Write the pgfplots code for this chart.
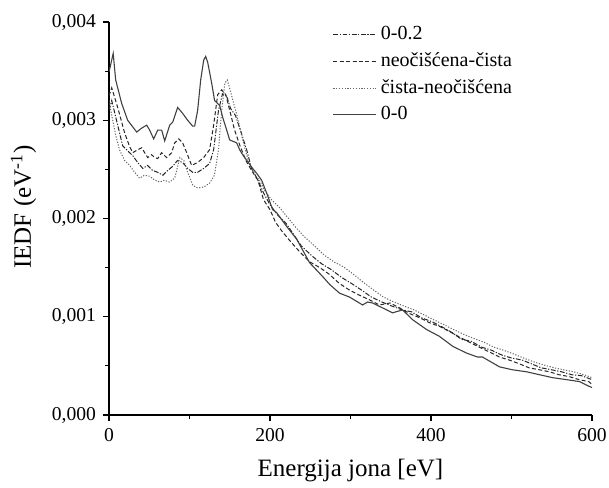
\documentclass[border=0pt]{standalone}
\usepackage{fontspec}
\setmainfont{Liberation Serif}
\usepackage{pgfplots}
\usepackage{pgfplotstable}
\pgfplotsset{compat=1.18}

% 0-0.2
\pgfplotstableread{
x y
0 0.00310
3.4 0.00320
10.8 0.00295
17 0.00274
23 0.00269
29.5 0.00264
35.6 0.00257
42 0.00251
48 0.00254
54 0.00249
60.5 0.00247
67 0.00244
73 0.00249
79 0.00253
85 0.00259
91.5 0.00257
97.7 0.00251
104 0.00247
110 0.00247
117.6 0.00251
125 0.00256
130 0.00270
136 0.00310
141 0.00327
146 0.00325
151 0.00312
157 0.00305
164 0.00288
171 0.00270
177 0.00251
185 0.00239
192 0.00226
200 0.00214
209 0.00204
220 0.00195
230 0.00183
239 0.00172
252 0.00162
264 0.00154
276 0.00148
289 0.00140
301 0.00134
314 0.00127
326 0.00120
339 0.00115
351 0.00111
364 0.00107
376 0.00105
388 0.00099
401 0.00095
413 0.00090
426 0.00084
438 0.00077
450 0.00075
463 0.00069
475 0.00066
488 0.00061
500 0.00058
513 0.00056
525 0.00052
537 0.00048
550 0.00046
562 0.00044
575 0.00041
587 0.00040
600 0.00036
}\tabA

% neocisdena-cista
\pgfplotstableread{
x y
0 0.00325
3.4 0.00333
10.8 0.00313
19.5 0.00287
25.7 0.00273
29.5 0.00267
35.6 0.00270
40.6 0.00272
44.3 0.00267
48.1 0.00262
53 0.00265
56.7 0.00262
60.5 0.00261
65.4 0.00267
71.6 0.00262
77.9 0.00267
81.6 0.00277
86.6 0.00281
91.5 0.00277
96.5 0.00267
102.7 0.00254
110.1 0.00257
117.6 0.00262
125 0.00270
130 0.00295
135 0.00326
140 0.00331
145 0.00326
150 0.00310
156 0.00290
162.3 0.00275
170 0.00259
177 0.00249
185 0.00239
192 0.00219
200 0.00209
207 0.00196
214 0.00188
224 0.00178
237 0.00166
249 0.00156
262 0.00150
274 0.00143
286 0.00134
299 0.00127
311 0.00122
324 0.00117
336 0.00112
349 0.00114
361 0.00109
374 0.00103
386 0.00099
398 0.00094
411 0.00090
423 0.00085
436 0.00079
448 0.00074
460 0.00069
473 0.00064
485 0.00059
497 0.00056
510 0.00052
522 0.00048
535 0.00046
547 0.00044
559 0.00041
572 0.00039
584 0.00036
596 0.00034
600 0.00031
}\tabB

% cista-neocisdena
\pgfplotstableread{
x y
0 0.00320
3.4 0.00305
8.3 0.00285
13 0.00270
19.5 0.00259
25.7 0.00254
32 0.00247
38 0.00241
44 0.00244
50.5 0.00243
57 0.00239
63 0.00237
69 0.00239
75 0.00237
81.6 0.00241
88 0.00262
93 0.00259
97.7 0.00247
104 0.00234
110 0.00231
117.6 0.00232
125 0.00236
131 0.00244
136 0.00270
140 0.00310
144 0.00338
147 0.00341
152 0.00326
159 0.00305
166 0.00280
173 0.00259
181 0.00244
187 0.00239
193 0.00229
202 0.00219
212 0.00211
222 0.00201
232 0.00191
242 0.00182
254 0.00173
267 0.00163
279 0.00156
291 0.00151
304 0.00143
316 0.00135
329 0.00127
341 0.00120
354 0.00115
366 0.00111
379 0.00107
391 0.00102
403 0.00097
416 0.00092
428 0.00087
441 0.00082
453 0.00078
466 0.00074
478 0.00069
490 0.00066
503 0.00062
515 0.00058
528 0.00054
540 0.00051
553 0.00048
565 0.00046
577 0.00044
590 0.00041
600 0.00038
}\tabC

% 0-0
\pgfplotstableread{
x y
0 0.00349
5.2 0.00368
8.3 0.00341
15.8 0.00317
23.2 0.00300
34.4 0.00288
40.6 0.00292
46.8 0.00295
50.5 0.00290
55.5 0.00281
60.5 0.00290
65.4 0.00290
69.2 0.00279
75.4 0.00295
79.1 0.00298
85.3 0.00313
91.5 0.00307
97.7 0.00300
103.9 0.00294
106.4 0.00294
110.1 0.00310
113.9 0.00341
117.6 0.00361
120.1 0.00365
122.6 0.00359
127.5 0.00338
131.2 0.00320
137.5 0.00315
141.2 0.00303
146.2 0.00290
149.9 0.00280
158.6 0.00277
162.3 0.00270
166 0.00265
172.2 0.00258
178.4 0.00251
183.4 0.00246
189.6 0.00239
195.8 0.00226
203.3 0.00209
208.2 0.00206
220.6 0.00192
233.1 0.00179
249.2 0.00155
265.3 0.00141
274 0.00133
286.4 0.00124
298.9 0.00120
315 0.00112
321.2 0.00115
327.4 0.00114
352.3 0.00104
364.7 0.00107
377.1 0.00097
394.5 0.00087
410.6 0.00080
426.8 0.00070
444.2 0.00063
457.8 0.00059
464 0.00059
485.1 0.00049
501.3 0.00046
518.7 0.00044
534.8 0.00041
551 0.00038
568.3 0.00036
584.5 0.00034
596.9 0.00029
600 0.00028
}\tabD

\begin{document}
\begin{tikzpicture}
\begin{axis}[
    scale only axis,
    width=241.5pt, height=196.5pt,
    xmin=0, xmax=600,
    ymin=0, ymax=0.004,
    xtick={0,200,400,600},
    ytick={0,0.001,0.002,0.003,0.004},
    minor x tick num=1,
    minor y tick num=1,
    axis lines=left,
    axis line style={-, line width=0.75pt},
    every tick/.style={black, line width=0.6pt},
    tick align=outside,
    major tick length=3pt,
    minor tick length=2pt,
    scaled y ticks=false,
    /pgf/number format/assume math mode=true,
    tick label style={font=\fontsize{9.8}{12}\selectfont},
    yticklabel style={/pgf/number format/.cd, fixed, fixed zerofill, precision=3, use comma},
    xticklabel style={/pgf/number format/.cd, fixed, precision=0},
    xlabel={Energija jona [eV]},
    ylabel={IEDF (eV\textsuperscript{-1})},
    label style={font=\fontsize{12.5}{15}\selectfont},
    xlabel style={at={(axis description cs:0.5,-0.14)}, anchor=center},
    ylabel style={at={(axis description cs:-0.177,0.529)}, anchor=center},
    legend style={draw=none, fill=none, at={(axis description cs:0.45,1.01)}, anchor=north west,
      font=\fontsize{10}{12}\selectfont, row sep=1pt},
    legend cell align=left,
    legend image code/.code={\draw[#1] (0pt,0pt) -- (21.5pt,0pt);},
]
\addplot[black!85, line width=0.5pt, dash pattern=on 2.4pt off 0.8pt on 0.6pt off 0.8pt] table[x=x,y=y] {\tabA};
\addlegendentry{0-0.2}
\addplot[black!85, line width=0.5pt, dash pattern=on 2pt off 1.2pt] table[x=x,y=y] {\tabB};
\addlegendentry{neočišćena-čista}
\addplot[black!60, line width=0.5pt, dash pattern=on 0.6pt off 0.8pt] table[x=x,y=y] {\tabC};
\addlegendentry{čista-neočišćena}
\addplot[black!75, line width=0.55pt] table[x=x,y=y] {\tabD};
\addlegendentry{0-0}
\end{axis}
\pgfresetboundingbox
\path ([shift={(-54.5pt,-36pt)}]current axis.south west) rectangle ([shift={(8.5pt,11pt)}]current axis.north east);
\end{tikzpicture}
\end{document}
